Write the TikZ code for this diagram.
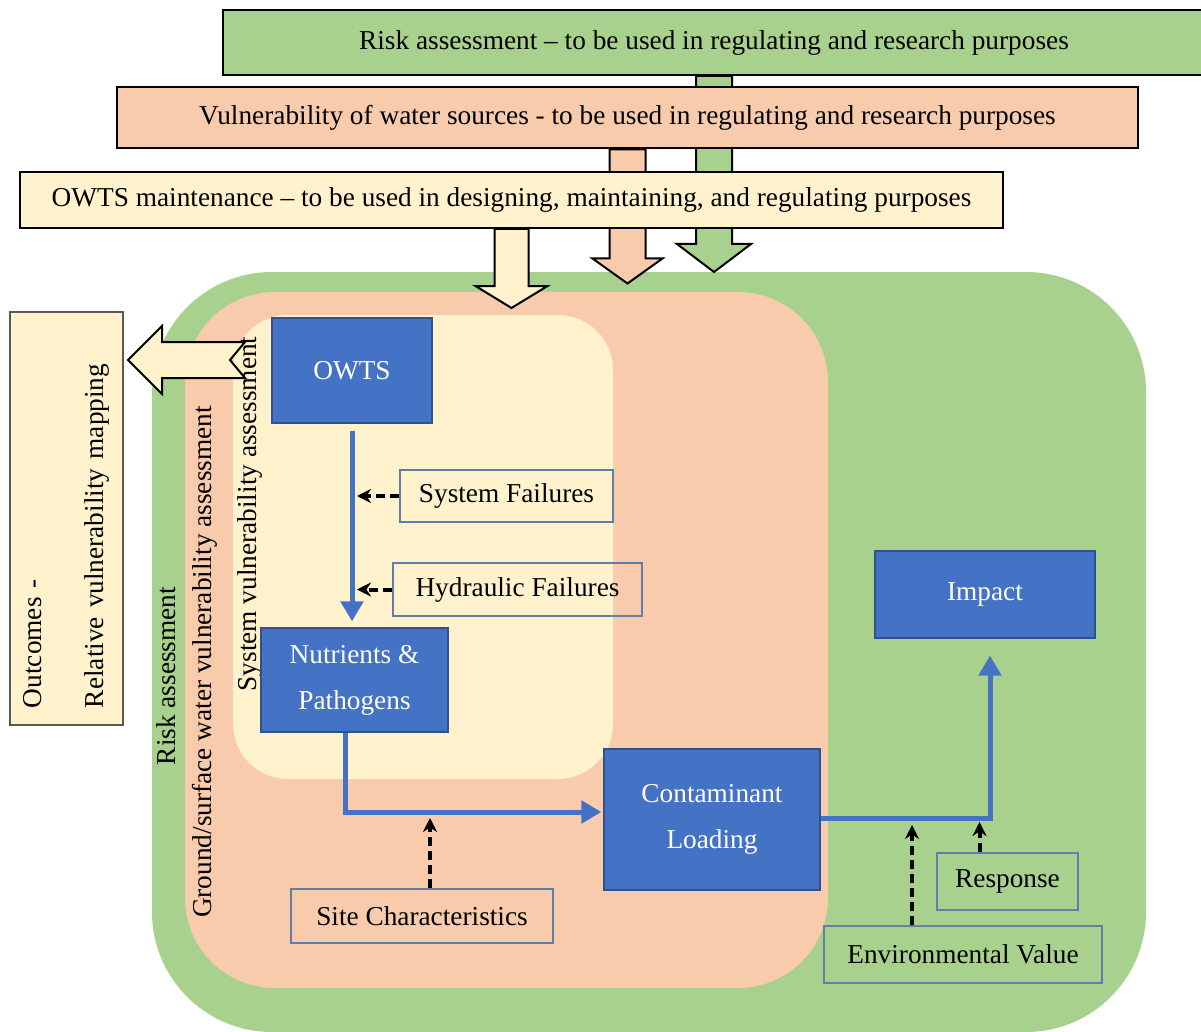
\documentclass[tikz,border=0pt]{standalone}
\usepackage{fontspec}
\setmainfont{Liberation Serif}
\usepackage{tikz}
\usetikzlibrary{calc, positioning, arrows.meta}
\definecolor{riskgreen}{RGB}{169,209,142}
\definecolor{vulnsalmon}{RGB}{248,203,173}
\definecolor{owtscream}{RGB}{255,242,204}
\definecolor{boxblue}{RGB}{68,114,196}
\definecolor{boxblueline}{RGB}{47,82,143}
\definecolor{tagline}{RGB}{96,126,168}
\tikzstyle{strip}=[draw=black, line width=2pt, inner sep=0pt]
\tikzstyle{blk}=[draw=black, line width=2pt, line join=miter]
\tikzstyle{comp}=[draw=boxblueline, line width=1.2pt, fill=boxblue, text=white, align=center, inner sep=0pt, font=\fontsize{27.3}{46}\selectfont]
\tikzstyle{tag}=[draw=tagline, line width=1.3pt, inner sep=0pt]
\tikzstyle{vlabel}=[rotate=90, inner sep=0pt]
\tikzstyle{flow}=[draw=boxblue, line width=5pt, -{Triangle[length=20pt,width=22pt]}]
\tikzstyle{hint}=[black, line width=4pt, dash pattern=on 9pt off 5pt, -{Stealth[length=14pt,width=14pt]}]

\begin{document}
\begin{tikzpicture}[x=1pt, y=-1pt, every node/.style={font=\fontsize{27.3}{33}\selectfont}]
\useasboundingbox (0,0) rectangle (1201,1032);
% assessment regions
\fill[riskgreen, rounded corners=120pt] (152,272) rectangle (1146,1032);
\fill[vulnsalmon, rounded corners=90pt] (185,292) rectangle (828,988);
\fill[owtscream, rounded corners=55pt] (233,315) rectangle (613,779);

% purpose strips
\node[strip, fill=riskgreen, minimum width=982pt, minimum height=65pt] (risk) at (714,42.5) {Risk assessment – to be used in regulating and research purposes};
\draw[blk, fill=riskgreen] ($(risk.south)+(-18,0)$) -- ++(0,168) -- ++(-19,0) -- ++(37,28) -- ++(37,-28) -- ++(-19,0) -- ++(0,-168) -- cycle;
\node[strip, fill=vulnsalmon, minimum width=1021pt, minimum height=61pt] (vuln) at (627.5,118) {Vulnerability of water sources - to be used in regulating and research purposes};
\draw[blk, fill=vulnsalmon] ($(vuln.south)+(-18,0)$) -- ++(0,109) -- ++(-17,0) -- ++(35,25) -- ++(35,-25) -- ++(-17,0) -- ++(0,-109) -- cycle;
\node[strip, fill=owtscream, minimum width=983pt, minimum height=56pt] (maint) at (511.5,200) {OWTS maintenance – to be used in designing, maintaining, and regulating purposes};
\draw[blk, fill=owtscream] ($(maint.south)+(-17,0)$) -- ++(0,57) -- ++(-19,0) -- ++(36,22) -- ++(36,-22) -- ++(-19,0) -- ++(0,-57) -- cycle;

% outcome arrow
\draw[blk, fill=owtscream] (245,342) -- (162,342) -- (162,326) -- (128,360) -- (162,394) -- (162,378) -- (245,378) -- (230,360) -- cycle;

\node[vlabel] (risklbl) at (166,676) {Risk assessment};
\node[vlabel] (vulnlbl) at (205,662) {Ground/surface water vulnerability assessment};
\node[vlabel] (syslbl) at (250,514) {System vulnerability assessment};

\node[draw=gray!70!black, line width=1.2pt, fill=owtscream, rotate=90, minimum width=413pt, minimum height=113pt, text width=379pt, align=left, inner sep=0pt, font=\fontsize{27.3}{62}\selectfont] (outc) at (66.5,518.5) {Outcomes -\\Relative vulnerability mapping};

% components
\node[comp, minimum width=160pt, minimum height=105pt] (owts) at (352,370.5) {OWTS};
\node[comp, minimum width=187pt, minimum height=104pt] (nutr) at (354.5,680) {Nutrients \&\\Pathogens};
\node[comp, minimum width=216pt, minimum height=141pt] (cont) at (712,819.5) {Contaminant\\Loading};
\node[comp, minimum width=220pt, minimum height=87pt] (impact) at (985,594.5) {Impact};

\node[tag, minimum width=213pt, minimum height=52pt] (sysfail) at (506.5,496) {System Failures};
\node[tag, minimum width=249pt, minimum height=53pt] (hydfail) at (517.5,589.5) {Hydraulic Failures};
\node[tag, minimum width=262pt, minimum height=54pt] (site) at (422,916) {Site Characteristics};
\node[tag, minimum width=141pt, minimum height=57pt] (resp) at (1007.5,881.5) {Response};
\node[tag, minimum width=278pt, minimum height=57pt] (envval) at (963,954.5) {Environmental Value};

\coordinate (bendA) at (345,812);
\coordinate (bendB) at (990,818);

\draw[flow, shorten <=7pt, shorten >=6pt] (owts.south) -- (owts.south |- nutr.north);
\draw[flow, shorten >=2pt] ([xshift=-9.5pt]nutr.south) -- (bendA) -- (bendA -| cont.west);
\draw[flow, shorten >=17pt] (cont.east |- bendB) -- (bendB) -- (bendB |- impact.south);

\draw[hint, shorten >=5pt] (sysfail.west) -- (sysfail.west -| owts.south);
\draw[hint, shorten >=5pt] (hydfail.west) -- (hydfail.west -| owts.south);
\draw[hint, shorten >=6pt] ([xshift=8pt]site.north) -- ([xshift=8pt]site.north |- bendA);
\draw[hint, shorten >=4pt] ([xshift=-28pt]resp.north) -- ([xshift=-28pt]resp.north |- bendB);
\draw[hint, shorten >=7pt] ([xshift=-51pt]envval.north) -- ([xshift=-51pt]envval.north |- bendB);
\end{tikzpicture}
\end{document}
